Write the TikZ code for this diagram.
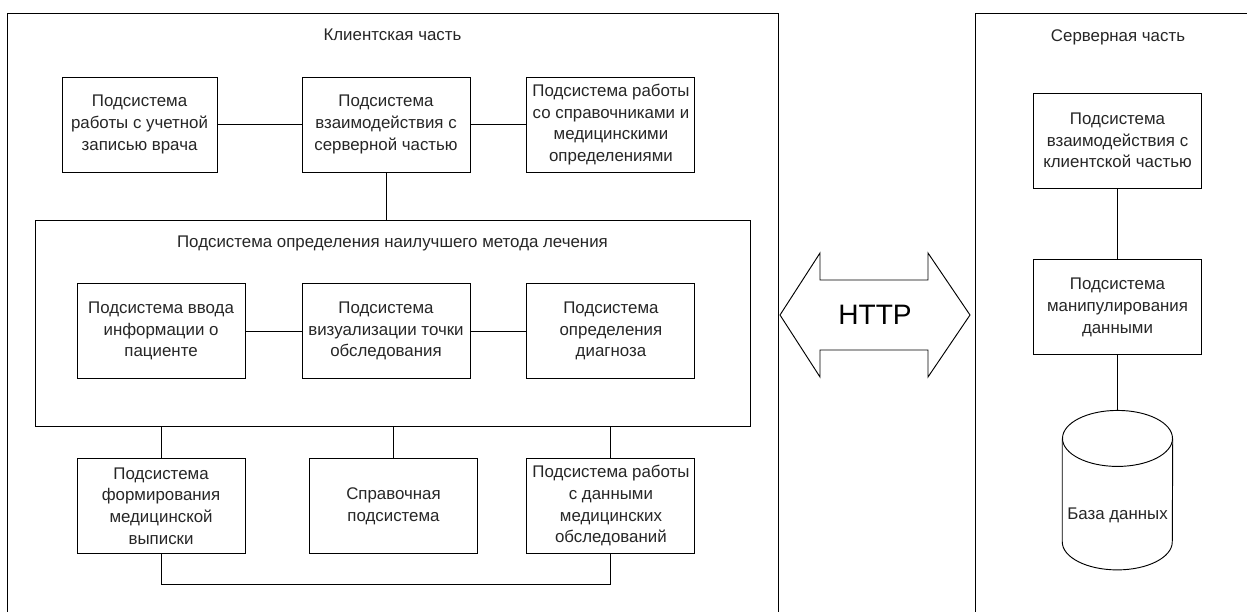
\documentclass[tikz,border=0pt]{standalone}
\usepackage{fontspec}
\setmainfont{Liberation Sans}
\usetikzlibrary{shapes,arrows,positioning}
\tikzstyle{block} = [rectangle, draw, line width=0.8pt, align=center, text=black!85,
    font=\fontsize{14.4}{18.5}\selectfont, minimum width=5.04cm, minimum height=2.85cm, inner sep=2pt]
\tikzstyle{title} = [font=\fontsize{14.4}{18.5}\selectfont, text=black!85]
\tikzstyle{dbnode} = [rectangle, minimum width=3.3cm, minimum height=4.77cm, inner sep=0pt]
\tikzstyle{line} = [draw, line width=0.8pt]

\begin{document}
\begin{tikzpicture}[x=0.03cm, y=0.03cm]
		\useasboundingbox (0,0) rectangle (1247,-612);
		% Frames of both parts
		\path [line] (7,-612) -- (7,-13) -- (778,-13) -- (778,-612);
		\path [line] (975,-612) -- (975,-13) -- (1247,-13);
		% Draw nodes (client part)
		\node [title] (clienttitle) at (392.5,-35) {Клиентская часть};
		\node [block] (clientlink) at (386,-124.5) {Подсистема\\взаимодействия с\\серверной частью};
		\node [block, minimum width=4.65cm, left=2.52cm of clientlink] (account) {Подсистема\\работы с учетной\\записью врача};
		\node [block, right=1.68cm of clientlink] (reference) {Подсистема работы\\со справочниками и\\медицинскими\\определениями};
		\node [block, minimum width=21.45cm, minimum height=6.18cm] (best) at (392.5,-323) {};
		\node [title] (besttitle) at (392.5,-243) {Подсистема определения наилучшего метода лечения};
		\node [block] (visual) at (386,-331) {Подсистема\\визуализации точки\\обследования};
		\node [block, left=1.68cm of visual] (patient) {Подсистема ввода\\информации о\\пациенте};
		\node [block, right=1.68cm of visual] (diagnosis) {Подсистема\\определения\\диагноза};
		\node [block, below=2.37cm of patient] (extract) {Подсистема\\формирования\\медицинской\\выписки};
		\node [block] (help) at (393.5,-506) {Справочная\\подсистема};
		\node [block, below=2.37cm of diagnosis] (exams) {Подсистема работы\\с данными\\медицинских\\обследований};
		% Draw nodes (server part)
		\node [title] (servertitle) at (1118,-37) {Серверная часть};
		\node [block] (serverlink) at (1117.5,-140.5) {Подсистема\\взаимодействия с\\клиентской частью};
		\node [block, below=2.13cm of serverlink] (datamanip) {Подсистема\\манипулирования\\данными};
		\node [dbnode, below=1.65cm of datamanip] (db) {};
		\node [title] (dblabel) at ([yshift=-0.765cm]db.center) {База данных};
		\path [line] ([yshift=-0.84cm]db.north west) -- ([yshift=0.84cm]db.south west)
			arc [start angle=180, end angle=360, x radius=1.65cm, y radius=0.84cm]
			-- ([yshift=-0.84cm]db.north east);
		\path [line] ([yshift=-0.84cm]db.north) ellipse [x radius=1.65cm, y radius=0.84cm];
		% HTTP arrow
		\node [font=\fontsize{24}{28}\selectfont] (http) at (875,-315) {HTTP};
		\path [line] (780,-315) -- (820,-253) -- (820,-280) -- (928,-280) -- (928,-253) -- (970,-315)
			-- (928,-377) -- (928,-350) -- (820,-350) -- (820,-377) -- cycle;
		% Draw lines connecting
		\path [line] (account) -- (clientlink);
		\path [line] (clientlink) -- (reference);
		\path [line] (clientlink.south) -- (clientlink.south |- best.north);
		\path [line] (patient) -- (visual);
		\path [line] (visual) -- (diagnosis);
		\path [line] (extract.north |- best.south) -- (extract);
		\path [line] (help.north |- best.south) -- (help);
		\path [line] (exams.north |- best.south) -- (exams);
		\path [line] (extract.south) -- ++(0,-31) -| (exams.south);
		\path [line] (serverlink) -- (datamanip);
		\path [line] (datamanip) -- (db);
	\end{tikzpicture}
\end{document}
